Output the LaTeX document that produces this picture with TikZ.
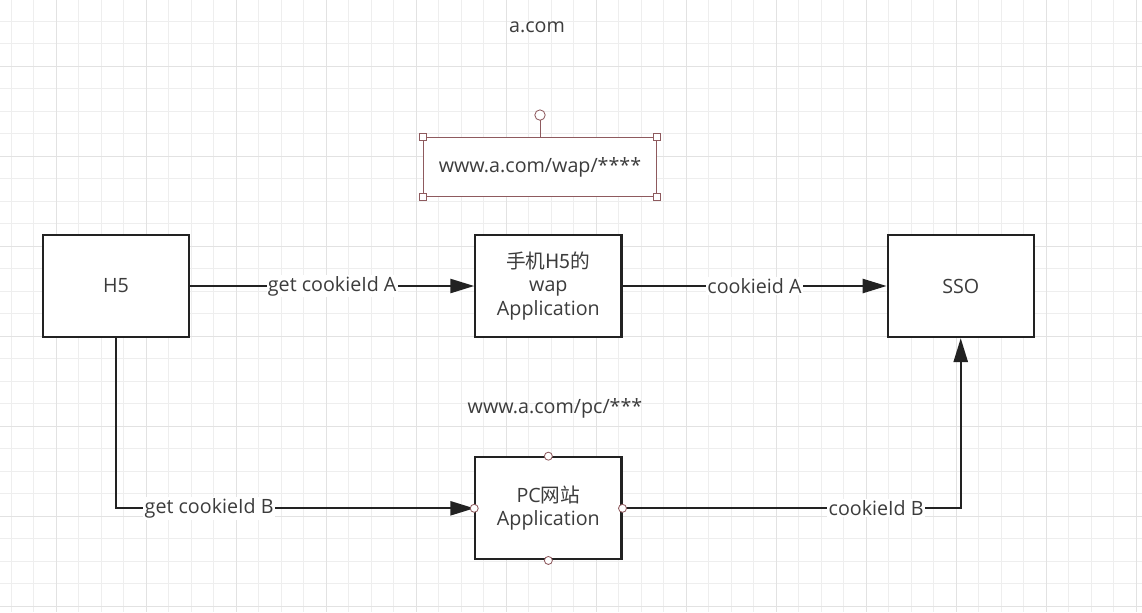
\documentclass[tikz,border=0pt]{standalone}
\usepackage{fontspec}
\setmainfont{Open Sans}
\newfontfamily\cjk{Noto Sans CJK SC}
\usetikzlibrary{positioning,arrows.meta}
\definecolor{gridminor}{HTML}{EEEEEE}
\definecolor{gridmajor}{HTML}{E2E2E2}
\definecolor{inkline}{HTML}{222222}
\definecolor{inktext}{HTML}{3C3C3C}
\definecolor{selpink}{HTML}{8E5A5E}
\tikzset{
    block/.style={rectangle, draw=inkline, line width=1.6pt, fill=white, minimum width=3.65cm, minimum height=2.55cm, text=inktext, align=center, font=\fontsize{14}{16.4}\selectfont},
    line/.style={-{Triangle[length=17pt,width=10pt]}, line width=1.6pt, draw=inkline},
    edgelabel/.style={fill=white, inner sep=1pt, text=inktext, font=\fontsize{14}{16}\selectfont},
    caption/.style={text=inktext, font=\fontsize{14}{16}\selectfont},
    selbox/.style={rectangle, draw=selpink, line width=0.6pt, fill=white, minimum width=5.825cm, minimum height=1.475cm, text=inktext, font=\fontsize{14}{16}\selectfont},
    handle/.style={rectangle, draw=selpink, fill=white, line width=0.6pt, minimum size=0.18cm, inner sep=0pt, outer sep=0pt},
    rothandle/.style={circle, draw=selpink, fill=white, line width=0.6pt, minimum size=0.26cm, inner sep=0pt, outer sep=0pt},
    port/.style={circle, draw=selpink, fill=white, line width=0.6pt, minimum size=0.2cm, inner sep=0pt, outer sep=0pt},
}
\begin{document}
\begin{tikzpicture}
        [x=0.025cm, y=-0.025cm]

        % background grid
        \fill[white] (0,0) rectangle (1142,612);
        \useasboundingbox (0,0) rectangle (1142,612);
        \foreach \gx in {11,33.5,...,1142} \draw[gridminor, line width=0.5pt] (\gx,0) -- (\gx,612);
        \foreach \gy in {21,43.5,...,612} \draw[gridminor, line width=0.5pt] (0,\gy) -- (1142,\gy);
        \foreach \gx in {56,146,...,1142} \draw[gridmajor, line width=0.7pt] (\gx,0) -- (\gx,612);
        \foreach \gy in {66,156,...,612} \draw[gridmajor, line width=0.7pt] (0,\gy) -- (1142,\gy);

        \node[caption] (domain) at (537,27) {a.com};
        \node[selbox] (wapurl) at (540,167) {www.a.com/wap/****};
        \node[rothandle, above=0.42cm of wapurl.north] (rot) {};
        \draw[selpink, line width=0.6pt] (wapurl.north) -- (rot);
        \foreach \a in {north west, north east, south west, south east}
            \node[handle] at (wapurl.\a) {};

        \node[block] (h5) at (116,286) {H5};
        \node[block, right=7.1cm of h5] (wap) {{\cjk 手机H5的}\\wap\\Application};
        \node[block, right=6.6cm of wap] (sso) {SSO};
        \node[block, below=2.95cm of wap] (pc) {PC{\cjk 网站}\\Application};
        \node[caption] (pcurl) at (555,408) {www.a.com/pc/***};

        \draw[line] (h5) -- node[edgelabel] {get cookieId A} (wap);
        \draw[line] (wap) -- node[edgelabel] {cookieid A} (sso);
        \draw[line] (h5.south) |- node[edgelabel, pos=0.63] {get cookieId B} (pc.west);
        \draw[line] (pc.east) -| node[edgelabel, pos=0.375] {cookieId B} (sso.south);

        \foreach \a in {north, south, east, west}
            \node[port] at (pc.\a) {};

    \end{tikzpicture}
\end{document}
